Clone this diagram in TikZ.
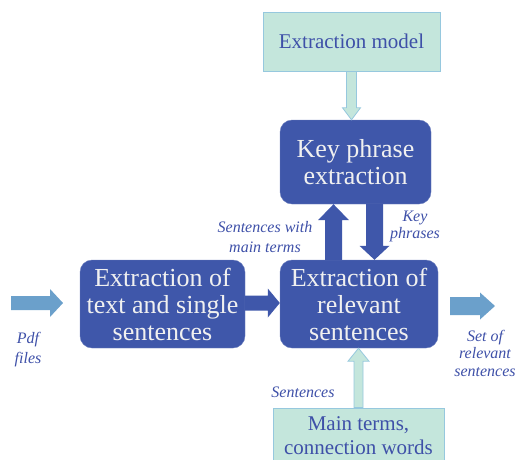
\documentclass[tikz,border=0pt]{standalone}
\usepackage{fontspec}
\setmainfont{Liberation Serif}
\usetikzlibrary{calc}
\definecolor{boxblue}{RGB}{63,87,170}
\definecolor{mintfill}{RGB}{196,230,220}
\definecolor{mintline}{RGB}{150,200,222}
\definecolor{steelblue}{RGB}{107,160,203}
\definecolor{labelblue}{RGB}{62,80,168}
\tikzset{
	darkbox/.style={draw=boxblue!75!white, fill=boxblue, rounded corners=12pt, text=white!94!black,
		align=center, inner sep=0pt, font=\fontsize{26}{27}\selectfont},
	mintbox/.style={draw=mintline, line width=0.8pt, fill=mintfill, text=labelblue,
		align=center, inner sep=0pt, font=\fontsize{21}{24}\selectfont},
	tag/.style={text=labelblue, align=center, inner sep=0pt, font=\itshape\fontsize{16}{#1}\selectfont},
	tag/.default=20,
	darkarrow/.style={fill=boxblue},
	lightarrow/.style={fill=mintfill, draw=mintline, line width=0.8pt},
	steelarrow/.style={fill=steelblue}
}
% 横向块箭头: 样式, 起点, 终点, 杆半宽, 头半宽, 头长
\newcommand\hblock[6]{\path[#1] let \p1=#2, \p2=#3 in
	({\x1},{\y1-#4}) -- ({\x2-#6},{\y1-#4}) -- ({\x2-#6},{\y1-#5}) -- ({\x2},{\y1})
	-- ({\x2-#6},{\y1+#5}) -- ({\x2-#6},{\y1+#4}) -- ({\x1},{\y1+#4}) -- cycle;}
% 纵向块箭头: 头长向下为正, 向上为负
\newcommand\vblock[6]{\path[#1] let \p1=#2, \p2=#3 in
	({\x1-#4},{\y1}) -- ({\x1-#4},{\y2+(#6)}) -- ({\x1-#5},{\y2+(#6)}) -- ({\x1},{\y2})
	-- ({\x1+#5},{\y2+(#6)}) -- ({\x1+#4},{\y2+(#6)}) -- ({\x1+#4},{\y1}) -- cycle;}
\begin{document}
\begin{tikzpicture}[x=1pt,y=-1pt]
	\useasboundingbox (0,0) rectangle (516,459);
	% 方框
	\node[mintbox, minimum width=177pt, minimum height=59pt] (model) at (351.5,41.5) {Extraction model};
	\node[darkbox, minimum width=151pt, minimum height=84pt] (keyphr) at (355.5,162) {Key phrase\\extraction};
	\node[darkbox, minimum width=165pt, minimum height=88pt] (textext) at (162.5,304) {Extraction of\\text and single\\sentences};
	\node[darkbox, minimum width=158pt, minimum height=88pt] (relsent) at (359,304) {Extraction of\\relevant\\sentences};
	\node[mintbox, minimum width=171pt, minimum height=56pt] (terms) at (358.5,436) {Main terms,\\connection words};
	% 箭头
	\coordinate (pdfstart) at (11,303);
	\coordinate (pdfend) at (63,303);
	\coordinate (outstart) at (450,306);
	\coordinate (outend) at (495,306);
	\hblock{steelarrow}{(pdfstart)}{(pdfend)}{7pt}{14pt}{13pt}
	\hblock{steelarrow}{(outstart)}{(outend)}{9pt}{13.5pt}{15pt}
	\hblock{darkarrow}{($(textext.east)+(0,-1)$)}{(relsent.west)}{7.5pt}{14.5pt}{12pt}
	\vblock{lightarrow}{(model.south)}{(keyphr.north)}{5pt}{9pt}{12pt}
	\vblock{darkarrow}{($(relsent.north)+(-25.5,0)$)}{(keyphr.south)}{8.5pt}{15.5pt}{-16pt}
	\vblock{darkarrow}{($(keyphr.south)+(19,0)$)}{(relsent.north)}{8.5pt}{15pt}{14pt}
	\vblock{lightarrow}{(terms.north)}{(relsent.south)}{4.5pt}{10.5pt}{-13pt}
	% 标注
	\node[tag] (pdflabel) at (28,350) {Pdf\\files};
	\node[tag=17.5] (setlabel) at (485,353) {Set of\\relevant\\sentences};
	\node[tag] (withlabel) at (265,237) {Sentences with\\main terms};
	\node[tag=17] (keylabel) at (415,226.5) {Key\\phrases};
	\node[tag] (sentlabel) at (303,392) {Sentences};
\end{tikzpicture}
\end{document}
